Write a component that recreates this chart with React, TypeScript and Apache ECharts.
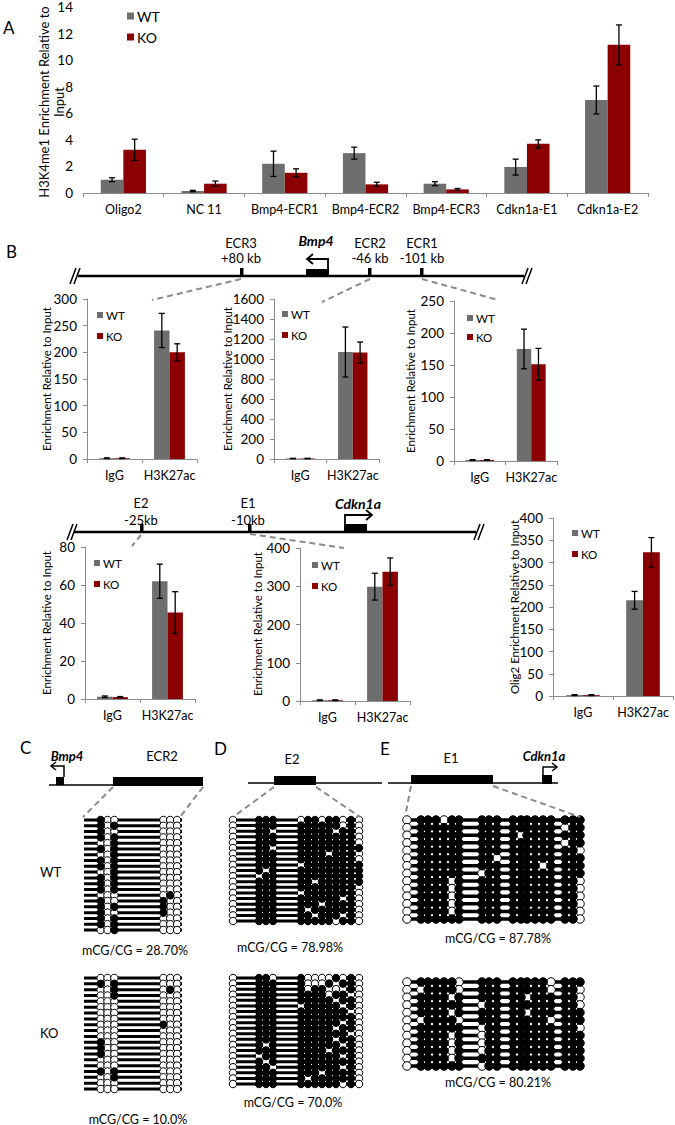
import React, { useEffect, useRef } from "react";
import * as echarts from "echarts";

const FONT = "Lato, 'Noto Sans', sans-serif";
const WT_COLOR = "#6e6e6e";
const KO_COLOR = "#8b0000";
const AXIS_GRAY = "#8c8c8c";
const BAR_FRAC = 0.28;

// ---------- Panel A: H3K4me1 ----------
const aCategories = ["Oligo2", "NC 11", "Bmp4-ECR1", "Bmp4-ECR2", "Bmp4-ECR3", "Cdkn1a-E1", "Cdkn1a-E2"];
const aWT = [1.0, 0.15, 2.2, 3.0, 0.7, 1.95, 7.0];
const aWTErr = [0.15, 0.05, 0.95, 0.45, 0.15, 0.6, 1.05];
const aKO = [3.25, 0.7, 1.52, 0.65, 0.27, 3.7, 11.15];
const aKOErr = [0.8, 0.2, 0.3, 0.16, 0.07, 0.3, 1.5];

// ---------- Panel B: H3K27ac ChIP ----------
const chipCats = ["IgG", "H3K27ac"];
const ecr3WT = [1.5, 241];
const ecr3WTErr = [0.6, 32];
const ecr3KO = [1.5, 200];
const ecr3KOErr = [0.6, 16];
const ecr2WT = [5, 1070];
const ecr2WTErr = [2, 250];
const ecr2KO = [5, 1065];
const ecr2KOErr = [2, 105];
const ecr1WT = [1.5, 175];
const ecr1WTErr = [0.6, 31];
const ecr1KO = [1.5, 151];
const ecr1KOErr = [0.6, 25];
const e2WT = [1.2, 62];
const e2WTErr = [0.4, 9];
const e2KO = [1.0, 45.5];
const e2KOErr = [0.3, 11];
const e1WT = [2, 299];
const e1WTErr = [1, 35];
const e1KO = [2, 338];
const e1KOErr = [1, 36];
const olig2WT = [2, 215];
const olig2WTErr = [1, 20];
const olig2KO = [2, 323];
const olig2KOErr = [1, 33];

// ---------- Panels C-E: bisulfite sequencing (1 = methylated CpG) ----------
const cpgC = [17, 24, 31, 81, 88, 95];
const lenC = 100;
const cWT = [
  "100000", "101000", "100000", "101000", "001000", "101000", "001000", "101000", "101000", "001000",
  "101000", "101000", "101000", "000010", "100100", "101100", "100100", "101000", "101000", "001000",
];
const cKO = [
  "000000", "101000", "001010", "001000", "000000", "000000", "000000", "000000", "000100", "000000",
  "000000", "100000", "100000", "100000", "000000", "000000", "101000", "001000", "000000", "000000",
];
const cpgD = [3, 29, 36, 43, 71, 78, 85, 92, 99, 106, 113, 121, 129];
const lenD = 132;
const dWT = [
  "0111011011010", "0111111111010", "0110111110110", "0111111111110", "0111111111110",
  "0110111111111", "0111111101110", "0111111111110", "0111011111111", "0101111111111",
  "0011111111111", "0111110111111", "0111111111110", "0111011111110", "0111111111010",
  "0111111011110", "0111101111110", "0111110111010", "0111111110110",
];
const dKO = [
  "0110100001010", "0111100010110", "0111101100010", "0111111101100", "0111111110110",
  "0111011111010", "0111111111100", "0111111111110", "0111111111010", "0111111110110",
  "0111111111100", "0111111110110", "0101111111010", "0111111101110", "0011111111010",
  "0101111111110", "0110111111010", "0111111011110", "0111101111110", "0111111111010",
];
const cpgE = [3, 17, 24, 32, 40, 48, 55, 78, 85, 93, 109, 117, 123, 131, 139, 147, 161, 169, 176];
const lenE = 178;
const eWT = [
  "0111011111111111111", "0111111111111111011", "0111111111101111111", "0111111111111111011",
  "0111111111111111110", "0111111110111111111", "0111111111111101111", "0111111011111111111",
  "0111101111111111110", "0111101111111111110", "0111101111111111110", "0111101111111111110",
  "0111101111111111110", "0111111111111111110",
];
const eKO = [
  "0111110111111110111", "0011110111111110110", "0111101111110111110", "0111111011111111110",
  "0111101111110111111", "0011110111111110111", "0111111011111111110", "0111101011111111111",
  "0111101011111111111", "0111101011111111111", "0111101111111111111", "0111111011111111111",
];

type Box = { left: number; top: number; width: number; height: number };

function errorSeries(gi: number, values: number[], errs: number[], side: number) {
  return {
    type: "custom",
    xAxisIndex: gi,
    yAxisIndex: gi,
    silent: true,
    z: 10,
    data: values.map((v, i) => [i, v, errs[i]]),
    renderItem: (_p: any, api: any) => {
      const i = api.value(0);
      const v = api.value(1);
      const e = api.value(2);
      const band = api.size([1, 0])[0];
      const off = (side * band * BAR_FRAC) / 2;
      const top = api.coord([i, v + e]);
      const bot = api.coord([i, Math.max(0, v - e)]);
      const x = top[0] + off;
      const cap = 3;
      const st = { stroke: "#000", lineWidth: 1.3 };
      return {
        type: "group",
        children: [
          { type: "line", shape: { x1: x, y1: top[1], x2: x, y2: bot[1] }, style: st },
          { type: "line", shape: { x1: x - cap, y1: top[1], x2: x + cap, y2: top[1] }, style: st },
          { type: "line", shape: { x1: x - cap, y1: bot[1], x2: x + cap, y2: bot[1] }, style: st },
        ],
      };
    },
  };
}

function barChart(
  gi: number, box: Box, cats: string[], wt: number[], wtErr: number[], ko: number[], koErr: number[],
  yMax: number, yInt: number, showYLine: boolean, catFont: number
) {
  return {
    grid: { ...box, containLabel: false },
    xAxis: {
      type: "category", gridIndex: gi, data: cats,
      axisLine: { show: true, lineStyle: { color: AXIS_GRAY, width: 1 } },
      axisTick: { show: true, length: 4, interval: 0, lineStyle: { color: AXIS_GRAY } },
      axisLabel: { color: "#000", fontFamily: FONT, fontSize: catFont, margin: 10, interval: 0, hideOverlap: false },
    },
    yAxis: {
      type: "value", gridIndex: gi, min: 0, max: yMax, interval: yInt,
      splitLine: { show: false },
      axisLine: { show: showYLine, lineStyle: { color: AXIS_GRAY, width: 1 } },
      axisTick: { show: showYLine, length: 4, lineStyle: { color: AXIS_GRAY } },
      axisLabel: { color: "#000", fontFamily: FONT, fontSize: 13.5, margin: 10, formatter: (v: number) => String(v) },
    },
    series: [
      { type: "bar", name: "WT", xAxisIndex: gi, yAxisIndex: gi, data: wt, barWidth: "28%", barGap: "0%", itemStyle: { color: WT_COLOR }, silent: true },
      { type: "bar", name: "KO", xAxisIndex: gi, yAxisIndex: gi, data: ko, barWidth: "28%", barGap: "0%", itemStyle: { color: KO_COLOR }, silent: true },
      errorSeries(gi, wt, wtErr, -1),
      errorSeries(gi, ko, koErr, 1),
    ],
  };
}

function methBlock(gi: number, box: Box, pos: number[], len: number, rows: string[], sym: number, lw: number) {
  const n = rows.length;
  const filled: number[][] = [];
  const open: number[][] = [];
  rows.forEach((r, ri) => {
    for (let k = 0; k < pos.length; k++) {
      (r[k] === "1" ? filled : open).push([pos[k], ri + 1]);
    }
  });
  return {
    grid: { ...box },
    xAxis: { type: "value", gridIndex: gi, min: 0, max: len, show: false },
    yAxis: { type: "value", gridIndex: gi, min: 1, max: n, inverse: true, show: false },
    series: [
      {
        type: "custom", xAxisIndex: gi, yAxisIndex: gi, silent: true, z: 1,
        data: rows.map((_r, ri) => [0, ri + 1]),
        renderItem: (_p: any, api: any) => {
          const y = api.value(1);
          const a = api.coord([0, y]);
          const b = api.coord([len, y]);
          return { type: "line", shape: { x1: a[0], y1: a[1], x2: b[0], y2: b[1] }, style: { stroke: "#000", lineWidth: lw } };
        },
      },
      {
        type: "scatter", xAxisIndex: gi, yAxisIndex: gi, silent: true, z: 2, data: open,
        symbol: "circle", symbolSize: sym,
        itemStyle: { color: "#fff", borderColor: "#000", borderWidth: 1, opacity: 1 },
      },
      {
        type: "scatter", xAxisIndex: gi, yAxisIndex: gi, silent: true, z: 3, data: filled,
        symbol: "circle", symbolSize: sym,
        itemStyle: { color: "#000", borderColor: "#000", borderWidth: 1, opacity: 1 },
      },
    ],
  };
}

// ---------- graphic helpers ----------
function txt(x: number, y: number, text: string, o: any = {}) {
  return {
    type: "text", x, y, rotation: o.rot || 0, silent: true, z: 50,
    style: {
      text, fill: "#000", fontFamily: FONT, fontSize: o.size || 13,
      fontWeight: o.weight || "normal", fontStyle: o.italic ? "italic" : "normal",
      align: o.align || "center", verticalAlign: "middle", lineHeight: o.lh,
    },
  };
}
function ln(x1: number, y1: number, x2: number, y2: number, o: any = {}) {
  return {
    type: "line", silent: true, z: 40,
    shape: { x1, y1, x2, y2 },
    style: { stroke: o.color || "#000", lineWidth: o.w || 1, lineDash: o.dash || null },
  };
}
function rct(x: number, y: number, w: number, h: number, fill = "#000") {
  return { type: "rect", silent: true, z: 41, shape: { x, y, width: w, height: h }, style: { fill } };
}
function poly(points: number[][], w = 1.6) {
  return { type: "polyline", silent: true, z: 42, shape: { points }, style: { stroke: "#000", lineWidth: w, fill: null } };
}
function legend(x: number, yWT: number, yKO: number, sq: number, fs: number) {
  return [
    rct(x, yWT - sq / 2, sq, sq, WT_COLOR),
    txt(x + sq + 3, yWT, "WT", { align: "left", size: fs }),
    rct(x, yKO - sq / 2, sq, sq, KO_COLOR),
    txt(x + sq + 3, yKO, "KO", { align: "left", size: fs }),
  ];
}
function breakMark(x: number, y: number) {
  return [ln(x - 5, y + 8, x + 1, y - 8, { w: 1.5 }), ln(x - 1, y + 8, x + 5, y - 8, { w: 1.5 })];
}
const DASH = { color: "#8a8a8a", w: 2, dash: [6, 4] };

function buildOption() {
  const grids: any[] = [];
  const xAxes: any[] = [];
  const yAxes: any[] = [];
  const series: any[] = [];
  const add = (p: any) => {
    grids.push(p.grid);
    xAxes.push(p.xAxis);
    yAxes.push(p.yAxis);
    series.push(...p.series);
  };

  add(barChart(0, { left: 83, top: 5, width: 565, height: 188 }, aCategories, aWT, aWTErr, aKO, aKOErr, 14, 2, false, 12.5));
  add(barChart(1, { left: 87, top: 299, width: 110, height: 160 }, chipCats, ecr3WT, ecr3WTErr, ecr3KO, ecr3KOErr, 300, 50, true, 12.5));
  add(barChart(2, { left: 274, top: 299, width: 105, height: 160 }, chipCats, ecr2WT, ecr2WTErr, ecr2KO, ecr2KOErr, 1600, 200, true, 12.5));
  add(barChart(3, { left: 454, top: 301, width: 103, height: 160 }, chipCats, ecr1WT, ecr1WTErr, ecr1KO, ecr1KOErr, 250, 50, true, 12.5));
  add(barChart(4, { left: 85, top: 547, width: 110, height: 152 }, chipCats, e2WT, e2WTErr, e2KO, e2KOErr, 80, 20, true, 12.5));
  add(barChart(5, { left: 300, top: 548, width: 110, height: 153 }, chipCats, e1WT, e1WTErr, e1KO, e1KOErr, 400, 100, true, 12.5));
  add(barChart(6, { left: 553, top: 518, width: 120, height: 178 }, chipCats, olig2WT, olig2WTErr, olig2KO, olig2KOErr, 400, 50, true, 12.5));

  add(methBlock(7, { left: 84, top: 820, width: 98, height: 110 }, cpgC, lenC, cWT, 7.5, 3));
  add(methBlock(8, { left: 84, top: 978, width: 98, height: 111 }, cpgC, lenC, cKO, 7.5, 3));
  add(methBlock(9, { left: 230, top: 820, width: 132, height: 101 }, cpgD, lenD, dWT, 7.5, 3));
  add(methBlock(10, { left: 230, top: 978, width: 132, height: 106 }, cpgD, lenD, dKO, 7.5, 3));
  add(methBlock(11, { left: 404, top: 820, width: 178, height: 99 }, cpgE, lenE, eWT, 8.5, 3.5));
  add(methBlock(12, { left: 404, top: 982, width: 178, height: 84 }, cpgE, lenE, eKO, 8.5, 3.5));

  const g: any[] = [];
  // panel letters
  g.push(txt(3, 27, "A", { align: "left", size: 17 }));
  g.push(txt(6, 251, "B", { align: "left", size: 17 }));
  g.push(txt(20, 747, "C", { align: "left", size: 17 }));
  g.push(txt(214, 748, "D", { align: "left", size: 17 }));
  g.push(txt(380, 748, "E", { align: "left", size: 17 }));

  // axis names
  g.push(txt(51, 102, "H3K4me1 Enrichment Relative to\nInput", { rot: Math.PI / 2, size: 13, lh: 15 }));
  g.push(txt(46, 379, "Enrichment Relative to Input", { rot: Math.PI / 2, size: 11.5 }));
  g.push(txt(227, 379, "Enrichment Relative to Input", { rot: Math.PI / 2, size: 11.5 }));
  g.push(txt(410, 381, "Enrichment Relative to Input", { rot: Math.PI / 2, size: 11.5 }));
  g.push(txt(46, 623, "Enrichment Relative to Input", { rot: Math.PI / 2, size: 11.5 }));
  g.push(txt(257, 624, "Enrichment Relative to Input", { rot: Math.PI / 2, size: 11.5 }));
  g.push(txt(514, 607, "Olig2 Enrichment Relative to Input", { rot: Math.PI / 2, size: 11.5 }));

  // legends
  g.push(...legend(127, 16, 37, 7, 14));
  g.push(...legend(97, 315, 336, 6, 11.5));
  g.push(...legend(282, 314, 335, 6, 11.5));
  g.push(...legend(467, 318, 337, 6, 11.5));
  g.push(...legend(94, 563, 584, 6, 11.5));
  g.push(...legend(312, 565, 586, 6, 11.5));
  g.push(...legend(572, 533, 554, 6, 11.5));

  // Bmp4 locus diagram
  g.push(ln(78, 276, 524, 276, { w: 2.5 }));
  g.push(...breakMark(75, 276), ...breakMark(527, 276));
  g.push(rct(240, 268, 3.5, 8), rct(368, 268, 3.5, 8), rct(420, 268, 3.5, 8));
  g.push(rct(306, 269, 23, 7));
  g.push(poly([[328, 269], [328, 259], [307, 259]], 1.8), poly([[313, 254], [307, 259], [313, 264]], 1.8));
  g.push(txt(241, 243, "ECR3"), txt(241, 258, "+80 kb"));
  g.push(txt(316, 240, "Bmp4", { weight: "bold", italic: true, size: 14 }));
  g.push(txt(370, 243, "ECR2"), txt(370, 258, "-46 kb"));
  g.push(txt(422, 243, "ECR1"), txt(422, 258, "-101 kb"));
  g.push(ln(241, 279, 152, 300, DASH), ln(370, 279, 322, 302, DASH), ln(422, 279, 498, 300, DASH));

  // Cdkn1a locus diagram
  g.push(ln(74, 532, 476, 532, { w: 2.5 }));
  g.push(...breakMark(72, 532), ...breakMark(479, 532));
  g.push(rct(140, 524, 3.5, 8), rct(248, 524, 3.5, 8));
  g.push(rct(344, 524, 23, 8));
  g.push(poly([[345, 524], [345, 515], [372, 515]], 1.8), poly([[366, 510], [372, 515], [366, 520]], 1.8));
  g.push(txt(141, 503, "E2"), txt(141, 520, "-25kb"));
  g.push(txt(248, 503, "E1"), txt(248, 520, "-10kb"));
  g.push(txt(358, 503, "Cdkn1a", { weight: "bold", italic: true, size: 14 }));
  g.push(ln(141, 535, 132, 546, DASH), ln(250, 534, 344, 548, DASH));

  // C gene track
  g.push(ln(49, 785, 113, 785, { w: 1.5 }));
  g.push(rct(56, 777, 8, 8));
  g.push(poly([[64, 777], [64, 766], [51, 766]], 1.5), poly([[56, 762], [51, 766], [56, 770]], 1.5));
  g.push(rct(113, 777, 90, 9));
  g.push(txt(67, 756, "Bmp4", { weight: "bold", italic: true, size: 13 }));
  g.push(txt(162, 756, "ECR2"));
  g.push(ln(113, 787, 83, 817, DASH), ln(203, 787, 180, 817, DASH));

  // D gene track
  g.push(ln(248, 783, 382, 783, { w: 1.5 }));
  g.push(rct(274, 776, 42, 9));
  g.push(txt(292, 759, "E2"));
  g.push(ln(274, 787, 233, 817, DASH), ln(316, 787, 360, 817, DASH));

  // E gene track
  g.push(ln(388, 783, 558, 783, { w: 1.5 }));
  g.push(rct(411, 775, 82, 9));
  g.push(rct(542, 775, 10, 9));
  g.push(poly([[543, 775], [543, 767], [557, 767]], 1.5), poly([[552, 763], [557, 767], [552, 771]], 1.5));
  g.push(txt(451, 758, "E1"));
  g.push(txt(544, 756, "Cdkn1a", { weight: "bold", italic: true, size: 13 }));
  g.push(ln(411, 786, 405, 817, DASH), ln(493, 786, 580, 817, DASH));

  // row labels and percentages
  g.push(txt(40, 872, "WT", { align: "left" }), txt(40, 1033, "KO", { align: "left" }));
  g.push(txt(135, 950, "mCG/CG = 28.70%", { size: 12.5 }));
  g.push(txt(138, 1119, "mCG/CG = 10.0%", { size: 12.5 }));
  g.push(txt(290, 947, "mCG/CG = 78.98%", { size: 12.5 }));
  g.push(txt(293, 1102, "mCG/CG = 70.0%", { size: 12.5 }));
  g.push(txt(498, 938, "mCG/CG = 87.78%", { size: 12.5 }));
  g.push(txt(498, 1082, "mCG/CG = 80.21%", { size: 12.5 }));

  return {
    animation: false,
    backgroundColor: "#fff",
    textStyle: { fontFamily: FONT },
    grid: grids,
    xAxis: xAxes,
    yAxis: yAxes,
    series,
    graphic: g,
  };
}

export default function App() {
  const ref = useRef<HTMLDivElement>(null);
  useEffect(() => {
    document.body.style.margin = "0";
    const chart = echarts.init(ref.current!, null, { renderer: "svg" });
    chart.setOption(buildOption() as any);
    return () => chart.dispose();
  }, []);
  return <div ref={ref} style={{ width: 675, height: 1125 }} />;
}
